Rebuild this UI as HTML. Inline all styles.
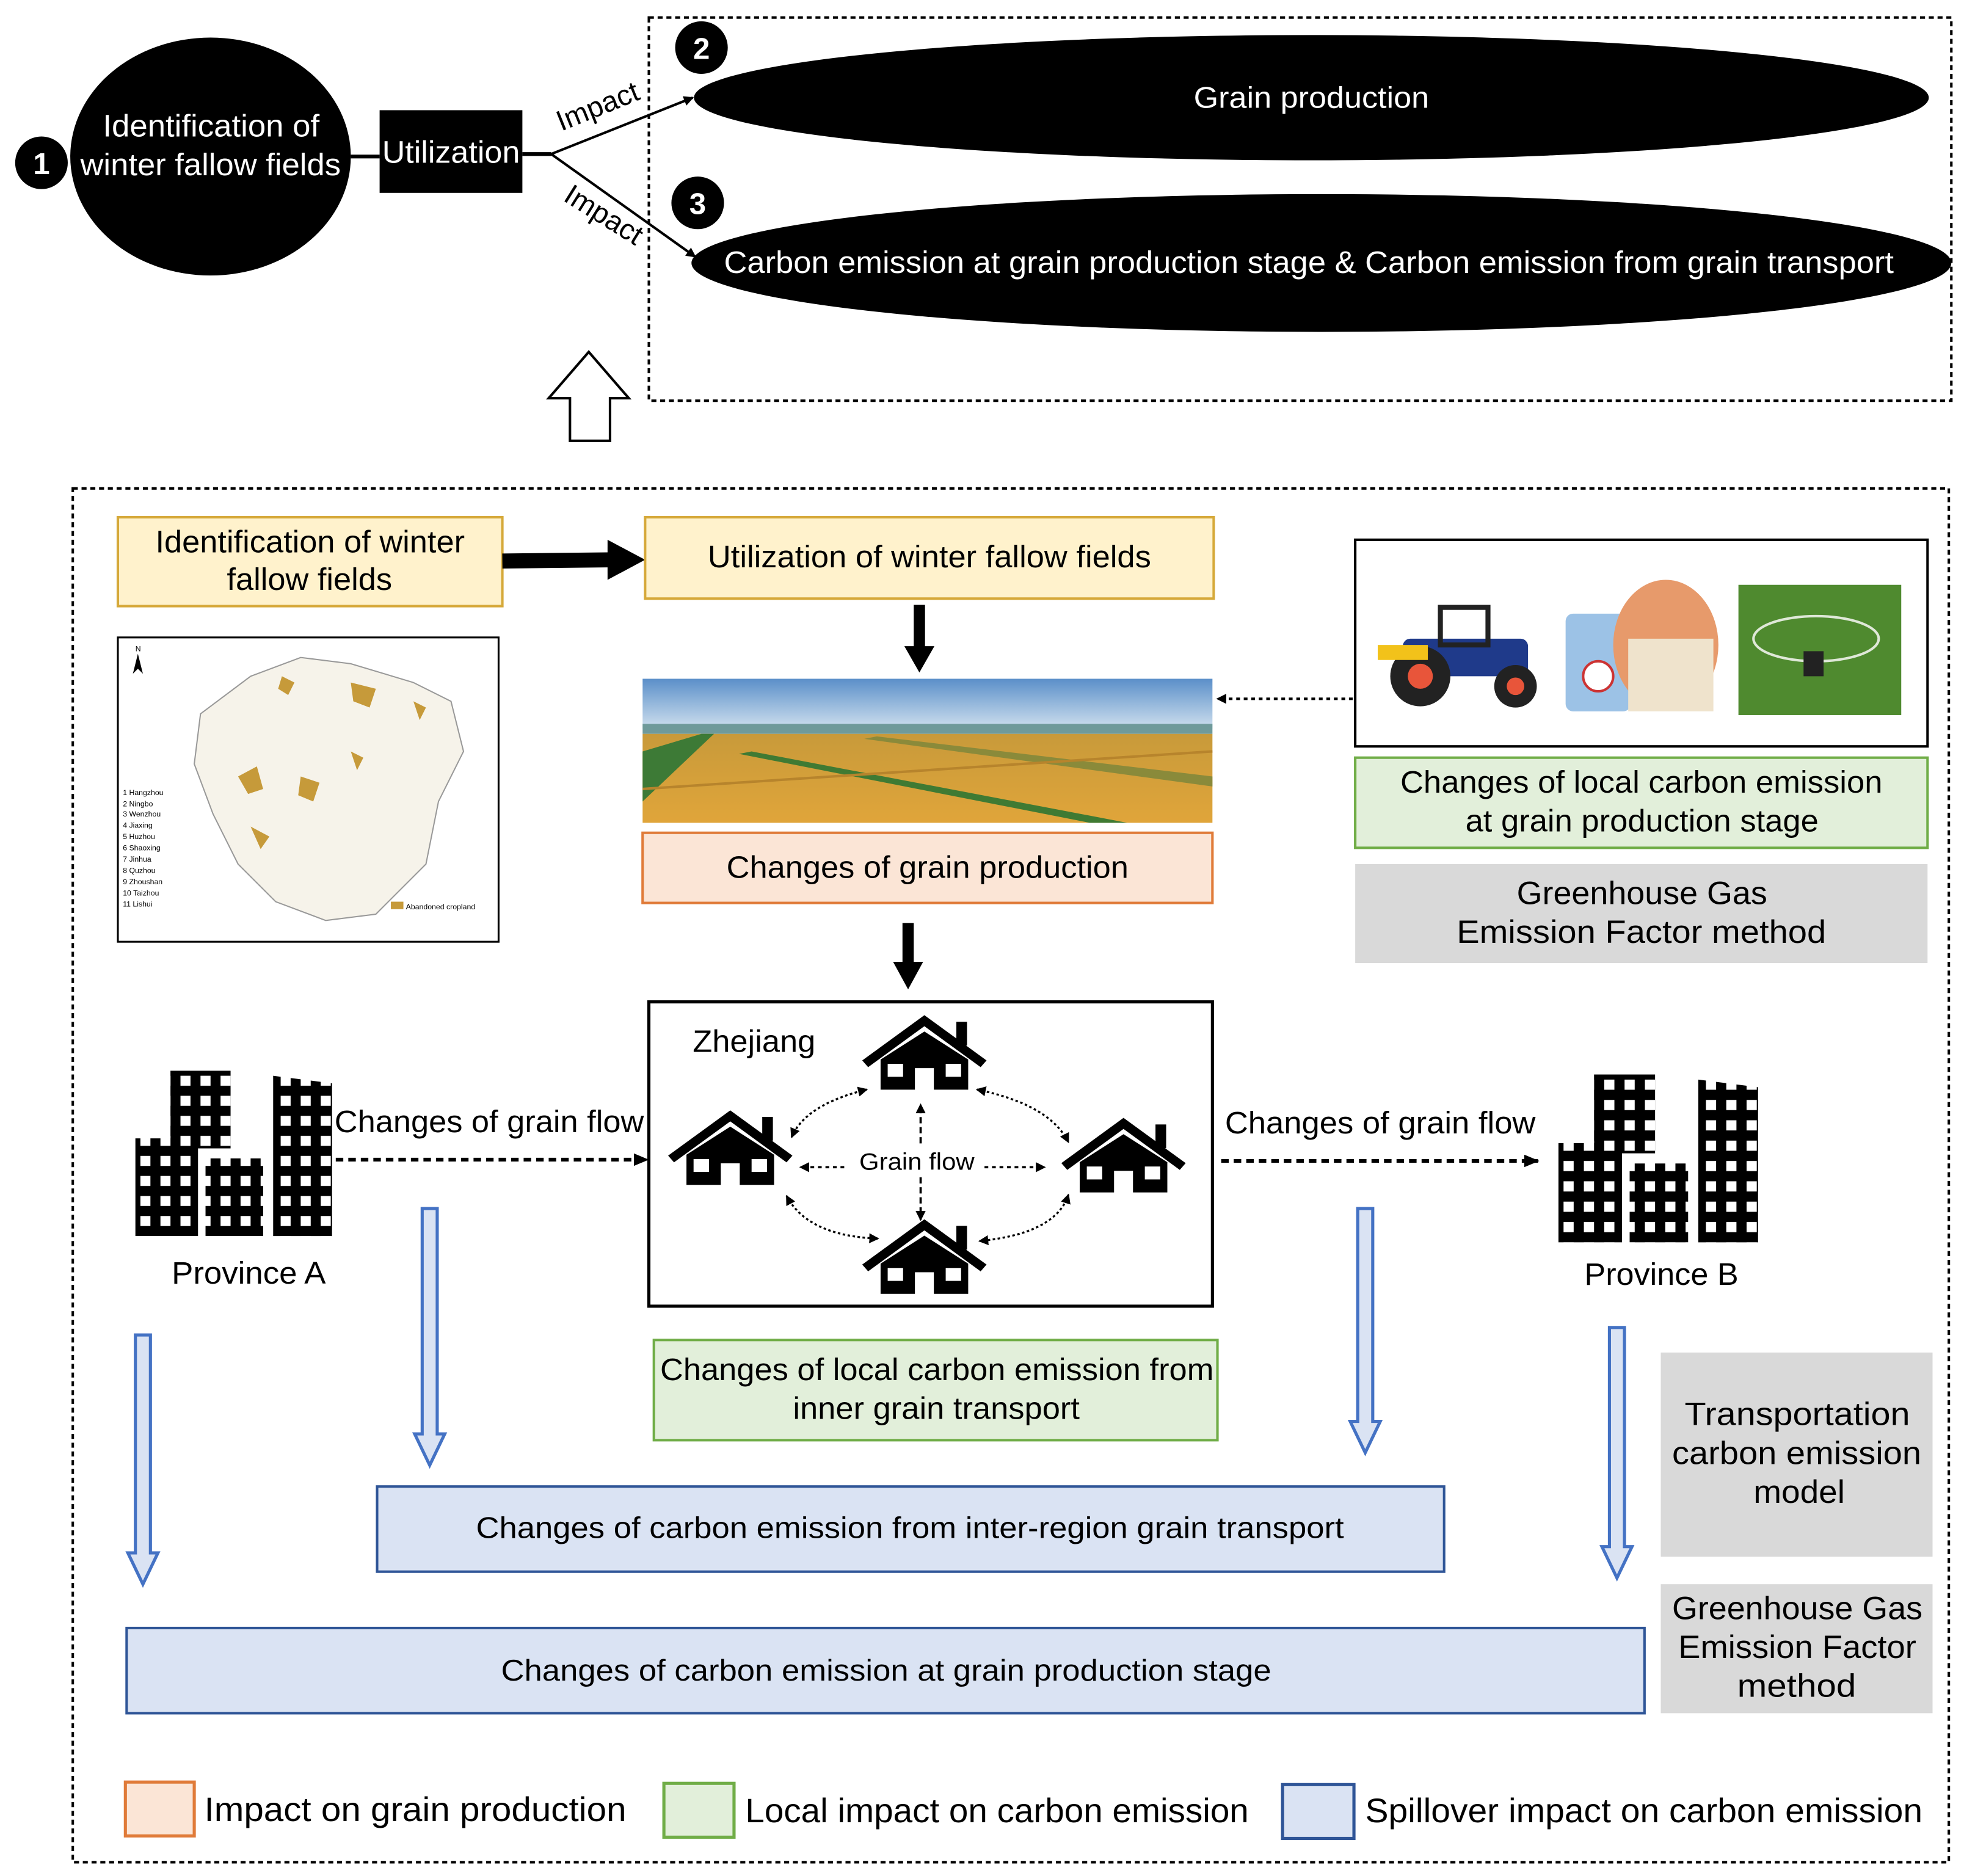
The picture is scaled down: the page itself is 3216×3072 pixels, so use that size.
<!DOCTYPE html>
<html><head><meta charset="utf-8"><style>
html,body{margin:0;padding:0;background:#fff;}
svg{display:block;}
text{font-family:"Liberation Sans",sans-serif;}
</style></head><body>
<svg width="3216" height="3072" viewBox="0 0 1568 1498" xmlns="http://www.w3.org/2000/svg">
<defs>
<marker id="ah" markerWidth="8" markerHeight="8" refX="7" refY="4" orient="auto" markerUnits="userSpaceOnUse"><path d="M0,0 L8,4 L0,8 z" fill="#000"/></marker>
<marker id="ahb" markerWidth="8" markerHeight="8" refX="1" refY="4" orient="auto" markerUnits="userSpaceOnUse"><path d="M8,0 L0,4 L8,8 z" fill="#000"/></marker>
<marker id="ahs" markerWidth="12" markerHeight="10" refX="11" refY="5" orient="auto" markerUnits="userSpaceOnUse"><path d="M0,0 L12,5 L0,10 z" fill="#000"/></marker>
<pattern id="win" width="16" height="16" patternUnits="userSpaceOnUse"><rect width="16" height="16" fill="#000"/><rect x="4" y="4" width="8" height="8" fill="#fff"/></pattern>
<symbol id="house" viewBox="-55 -35 110 72" preserveAspectRatio="none" overflow="visible">
<polyline points="-50,12 0,-28 50,12" fill="none" stroke="#000" stroke-width="8"/>
<rect x="27" y="-27" width="9" height="22" fill="#000"/>
<path d="M-37,8 L0,-18 L37,8 V36 H8 V16 H-8 V36 H-37 Z" fill="#000"/>
<rect x="-31" y="12" width="13" height="12" fill="#fff"/><rect x="18" y="12" width="13" height="12" fill="#fff"/>
</symbol>
<symbol id="bldg" viewBox="0 0 160 132" overflow="visible">
<rect x="28" y="0" width="48" height="62" fill="url(#win)"/>
<rect x="0" y="54" width="50" height="78" fill="url(#win)"/>
<rect x="56" y="70" width="46" height="62" fill="url(#win)"/>
<polygon points="110,4 157,10 157,132 110,132" fill="url(#win)"/>
</symbol>
<linearGradient id="sky" x1="0" y1="0" x2="0" y2="1"><stop offset="0" stop-color="#5b8fc9"/><stop offset="1" stop-color="#cfe0ee"/></linearGradient>
<linearGradient id="field" x1="0" y1="0" x2="0" y2="1"><stop offset="0" stop-color="#c89a3a"/><stop offset="1" stop-color="#e0a53a"/></linearGradient>
</defs>

<!-- TOP SECTION -->
<rect x="518" y="14" width="1040" height="306" fill="none" stroke="#000" stroke-width="2" stroke-dasharray="4,3"/>
<line x1="280" y1="125" x2="303" y2="125" stroke="#000" stroke-width="3"/>
<line x1="417" y1="123" x2="440" y2="123" stroke="#000" stroke-width="3"/>
<line x1="440" y1="123" x2="553" y2="78" stroke="#000" stroke-width="2" marker-end="url(#ah)"/>
<line x1="440" y1="123" x2="555" y2="205" stroke="#000" stroke-width="2" marker-end="url(#ah)"/>
<ellipse cx="168" cy="125" rx="112" ry="95" fill="#000"/>
<text x="82" y="109" font-size="25" fill="#fff" textLength="173" lengthAdjust="spacingAndGlyphs">Identification of</text>
<text x="64" y="140" font-size="25" fill="#fff" textLength="208" lengthAdjust="spacingAndGlyphs">winter fallow fields</text>
<circle cx="33" cy="130" r="21" fill="#000"/>
<text x="33" y="139" font-size="24" font-weight="bold" fill="#fff" text-anchor="middle">1</text>
<rect x="303" y="88" width="114" height="66" fill="#000"/>
<text x="305" y="130" font-size="25" fill="#fff" textLength="110" lengthAdjust="spacingAndGlyphs">Utilization</text>
<text x="480" y="92" font-size="23" text-anchor="middle" transform="rotate(-22 480 92)">Impact</text>
<text x="478" y="178" font-size="23" text-anchor="middle" transform="rotate(32 478 178)">Impact</text>
<ellipse cx="1047" cy="78" rx="493" ry="50" fill="#000"/>
<text x="953" y="86" font-size="24" fill="#fff" textLength="188" lengthAdjust="spacingAndGlyphs">Grain production</text>
<ellipse cx="1055" cy="210" rx="503" ry="55" fill="#000"/>
<text x="578" y="218" font-size="25" fill="#fff" textLength="934" lengthAdjust="spacingAndGlyphs">Carbon emission at grain production stage &amp; Carbon emission from grain transport</text>
<circle cx="560" cy="38" r="21" fill="#000"/>
<text x="560" y="47" font-size="24" font-weight="bold" fill="#fff" text-anchor="middle">2</text>
<circle cx="557" cy="162" r="21" fill="#000"/>
<text x="557" y="171" font-size="24" font-weight="bold" fill="#fff" text-anchor="middle">3</text>
<path d="M470,281 L502,318 L487,318 L487,352 L455,352 L455,318 L438,318 Z" fill="#fff" stroke="#000" stroke-width="2"/>

<!-- BOTTOM SECTION -->
<rect x="58" y="390" width="1498" height="1097" fill="none" stroke="#000" stroke-width="2" stroke-dasharray="4,3"/>
<rect x="94" y="413" width="307" height="71" fill="#fff2cc" stroke="#d6a93a" stroke-width="2"/>
<text x="124" y="441" font-size="25" textLength="247" lengthAdjust="spacingAndGlyphs">Identification of winter</text>
<text x="181" y="471" font-size="25" textLength="132" lengthAdjust="spacingAndGlyphs">fallow fields</text>
<line x1="401" y1="448" x2="490" y2="447" stroke="#000" stroke-width="12"/>
<polygon points="485,431 515,447 485,463" fill="#000"/>
<rect x="515" y="413" width="454" height="65" fill="#fff2cc" stroke="#d6a93a" stroke-width="2"/>
<text x="565" y="453" font-size="25" textLength="354" lengthAdjust="spacingAndGlyphs">Utilization of winter fallow fields</text>
<line x1="734" y1="483" x2="734" y2="520" stroke="#000" stroke-width="9"/>
<polygon points="722,516 746,516 734,537" fill="#000"/>

<!-- field photo -->
<rect x="513" y="542" width="455" height="40" fill="url(#sky)"/>
<rect x="513" y="578" width="455" height="8" fill="#6f9a9a"/>
<polygon points="513,586 968,586 968,657 513,657" fill="url(#field)"/>
<polygon points="513,600 560,586 570,586 513,640" fill="#3d7a36"/>
<polygon points="600,600 900,657 870,657 590,602" fill="#3f7a33"/>
<polygon points="700,588 968,620 968,628 690,590" fill="#8a8a3a"/>
<line x1="513" y1="630" x2="968" y2="600" stroke="#b7842c" stroke-width="2"/>

<rect x="513" y="665" width="455" height="56" fill="#fbe5d6" stroke="#e07b39" stroke-width="2"/>
<text x="580" y="701" font-size="25" textLength="321" lengthAdjust="spacingAndGlyphs">Changes of grain production</text>
<line x1="725" y1="737" x2="725" y2="772" stroke="#000" stroke-width="9"/>
<polygon points="713,768 737,768 725,790" fill="#000"/>

<!-- map -->
<rect x="94" y="509" width="304" height="243" fill="#fff" stroke="#000" stroke-width="1.5"/>
<path d="M160,570 L200,540 L240,525 L280,530 L330,545 L360,560 L370,600 L350,640 L340,690 L300,730 L260,735 L220,720 L190,690 L170,650 L155,610 Z" fill="#f6f3ea" stroke="#999" stroke-width="1"/>
<path d="M225,540 L235,545 L230,555 L222,550 Z M280,545 L300,550 L295,565 L282,560 Z M190,620 L205,612 L210,630 L198,634 Z M240,620 L255,625 L250,640 L238,635 Z M280,600 L290,605 L285,615 Z M330,560 L340,565 L335,575 Z M200,660 L215,668 L208,678 Z" fill="#c69a3a"/>
<text x="98" y="635" font-size="6">1 Hangzhou</text><text x="98" y="644" font-size="6">2 Ningbo</text><text x="98" y="652" font-size="6">3 Wenzhou</text><text x="98" y="661" font-size="6">4 Jiaxing</text><text x="98" y="670" font-size="6">5 Huzhou</text><text x="98" y="679" font-size="6">6 Shaoxing</text><text x="98" y="688" font-size="6">7 Jinhua</text><text x="98" y="697" font-size="6">8 Quzhou</text><text x="98" y="706" font-size="6">9 Zhoushan</text><text x="98" y="715" font-size="6">10 Taizhou</text><text x="98" y="724" font-size="6">11 Lishui</text>
<rect x="312" y="720" width="10" height="6" fill="#c69a3a"/><text x="324" y="726" font-size="6">Abandoned cropland</text>
<text x="108" y="520" font-size="6">N</text><polygon points="110,522 106,538 110,534 114,538" fill="#000"/>

<!-- equipment image -->
<rect x="1082" y="431" width="457" height="165" fill="#fff" stroke="#000" stroke-width="2"/>
<rect x="1120" y="510" width="100" height="30" rx="6" fill="#1f3a8a"/>
<rect x="1150" y="485" width="38" height="30" fill="none" stroke="#222" stroke-width="4"/>
<circle cx="1134" cy="540" r="24" fill="#222"/><circle cx="1134" cy="540" r="10" fill="#e8553a"/>
<circle cx="1210" cy="548" r="17" fill="#222"/><circle cx="1210" cy="548" r="7" fill="#e8553a"/>
<rect x="1100" y="515" width="40" height="12" fill="#f2c21a"/>
<rect x="1250" y="490" width="52" height="78" rx="6" fill="#9cc2e6"/>
<circle cx="1276" cy="540" r="12" fill="#fff" stroke="#c33" stroke-width="2"/>
<ellipse cx="1330" cy="515" rx="42" ry="52" fill="#e79a6b"/>
<rect x="1300" y="510" width="68" height="58" fill="#efe3cc"/>
<rect x="1388" y="467" width="130" height="104" fill="#4f8a2f"/>
<ellipse cx="1450" cy="510" rx="50" ry="18" fill="none" stroke="#dfe8d8" stroke-width="2"/>
<rect x="1440" y="520" width="16" height="20" fill="#222"/>
<line x1="1080" y1="558" x2="972" y2="558" stroke="#000" stroke-width="2" stroke-dasharray="3,3" marker-end="url(#ah)"/>
<rect x="1082" y="605" width="457" height="72" fill="#e2efda" stroke="#70ad47" stroke-width="2"/>
<text x="1118" y="633" font-size="25" textLength="385" lengthAdjust="spacingAndGlyphs">Changes of local carbon emission</text>
<text x="1170" y="664" font-size="25" textLength="282" lengthAdjust="spacingAndGlyphs">at grain production stage</text>
<rect x="1082" y="690" width="457" height="79" fill="#d9d9d9"/>
<text x="1211" y="722" font-size="26" textLength="200" lengthAdjust="spacingAndGlyphs">Greenhouse Gas</text>
<text x="1163" y="753" font-size="26" textLength="295" lengthAdjust="spacingAndGlyphs">Emission Factor method</text>

<!-- Zhejiang -->
<rect x="518" y="800" width="450" height="243" fill="#fff" stroke="#000" stroke-width="2.5"/>
<text x="553" y="840" font-size="25" textLength="98" lengthAdjust="spacingAndGlyphs">Zhejiang</text>
<use href="#house" x="686" y="809" width="104" height="62"/>
<use href="#house" x="531" y="885" width="104" height="62"/>
<use href="#house" x="845" y="891" width="104" height="62"/>
<use href="#house" x="686" y="972" width="104" height="62"/>
<text x="686" y="934" font-size="19" textLength="92" lengthAdjust="spacingAndGlyphs">Grain flow</text>
<line x1="674" y1="932" x2="639" y2="932" stroke="#000" stroke-width="1.8" stroke-dasharray="3,3" marker-end="url(#ah)"/>
<line x1="786" y1="932" x2="834" y2="932" stroke="#000" stroke-width="1.8" stroke-dasharray="3,3" marker-end="url(#ah)"/>
<line x1="735" y1="913" x2="735" y2="882" stroke="#000" stroke-width="1.8" stroke-dasharray="5,3" marker-end="url(#ah)"/>
<line x1="735" y1="940" x2="735" y2="974" stroke="#000" stroke-width="1.8" stroke-dasharray="5,3" marker-end="url(#ah)"/>
<g fill="none" stroke="#000" stroke-width="1.6" stroke-dasharray="2,2">
<path d="M692,870 Q643,882 632,908" marker-start="url(#ahb)" marker-end="url(#ah)"/>
<path d="M780,870 Q838,882 853,912" marker-start="url(#ahb)" marker-end="url(#ah)"/>
<path d="M628,955 Q645,987 701,989" marker-start="url(#ahb)" marker-end="url(#ah)"/>
<path d="M853,954 Q843,985 782,991" marker-start="url(#ahb)" marker-end="url(#ah)"/>
</g>

<!-- provinces -->
<use href="#bldg" x="108" y="855" width="160" height="132"/>
<text x="137" y="1025" font-size="25" textLength="123" lengthAdjust="spacingAndGlyphs">Province A</text>
<use href="#bldg" x="1238" y="858" width="175" height="134"/>
<text x="1265" y="1026" font-size="25" textLength="123" lengthAdjust="spacingAndGlyphs">Province B</text>
<text x="267" y="904" font-size="25" textLength="247" lengthAdjust="spacingAndGlyphs">Changes of grain flow</text>
<text x="978" y="905" font-size="25" textLength="248" lengthAdjust="spacingAndGlyphs">Changes of grain flow</text>
<line x1="268" y1="926" x2="517" y2="926" stroke="#000" stroke-width="3" stroke-dasharray="6,4" marker-end="url(#ahs)"/>
<line x1="975" y1="927" x2="1228" y2="927" stroke="#000" stroke-width="3" stroke-dasharray="6,4" marker-end="url(#ahs)"/>

<!-- blue arrows -->
<g fill="#dae3f3" stroke="#4472c4" stroke-width="2.5">
<path d="M337,965 H349 V1145 H355 L343,1170 L331,1145 H337 Z"/>
<path d="M1084,965 H1096 V1135 H1102 L1090,1160 L1078,1135 H1084 Z"/>
<path d="M108,1066 H120 V1240 H126 L114,1265 L102,1240 H108 Z"/>
<path d="M1285,1060 H1297 V1235 H1303 L1291,1260 L1279,1235 H1285 Z"/>
</g>

<rect x="522" y="1070" width="450" height="80" fill="#e2efda" stroke="#70ad47" stroke-width="2"/>
<text x="527" y="1102" font-size="25" textLength="442" lengthAdjust="spacingAndGlyphs">Changes of local carbon emission from</text>
<text x="633" y="1133" font-size="25" textLength="229" lengthAdjust="spacingAndGlyphs">inner grain transport</text>
<rect x="301" y="1187" width="852" height="68" fill="#dae3f3" stroke="#2f5597" stroke-width="2"/>
<text x="380" y="1228" font-size="24" textLength="693" lengthAdjust="spacingAndGlyphs">Changes of carbon emission from inter-region grain transport</text>
<rect x="101" y="1300" width="1212" height="68" fill="#dae3f3" stroke="#2f5597" stroke-width="2"/>
<text x="400" y="1342" font-size="24" textLength="615" lengthAdjust="spacingAndGlyphs">Changes of carbon emission at grain production stage</text>
<rect x="1326" y="1080" width="217" height="163" fill="#d9d9d9"/>
<text x="1345" y="1138" font-size="26" textLength="180" lengthAdjust="spacingAndGlyphs">Transportation</text>
<text x="1335" y="1169" font-size="26" textLength="199" lengthAdjust="spacingAndGlyphs">carbon emission</text>
<text x="1400" y="1200" font-size="26" textLength="73" lengthAdjust="spacingAndGlyphs">model</text>
<rect x="1326" y="1265" width="217" height="103" fill="#d9d9d9"/>
<text x="1335" y="1293" font-size="26" textLength="200" lengthAdjust="spacingAndGlyphs">Greenhouse Gas</text>
<text x="1340" y="1324" font-size="26" textLength="190" lengthAdjust="spacingAndGlyphs">Emission Factor</text>
<text x="1387" y="1355" font-size="26" textLength="95" lengthAdjust="spacingAndGlyphs">method</text>

<!-- legend -->
<rect x="100" y="1423" width="55" height="43" fill="#fbe5d6" stroke="#e07b39" stroke-width="2.5"/>
<text x="163" y="1454" font-size="27" textLength="337" lengthAdjust="spacingAndGlyphs">Impact on grain production</text>
<rect x="530" y="1424" width="56" height="43" fill="#e2efda" stroke="#70ad47" stroke-width="2.5"/>
<text x="595" y="1455" font-size="27" textLength="402" lengthAdjust="spacingAndGlyphs">Local impact on carbon emission</text>
<rect x="1024" y="1425" width="57" height="43" fill="#dae3f3" stroke="#2f5597" stroke-width="2.5"/>
<text x="1090" y="1455" font-size="27" textLength="445" lengthAdjust="spacingAndGlyphs">Spillover impact on carbon emission</text>
</svg>
</body></html>
